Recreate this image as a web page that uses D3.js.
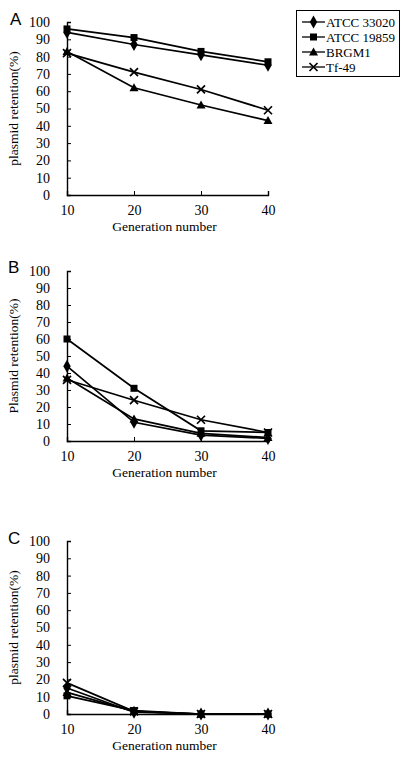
<!DOCTYPE html>
<html><head><meta charset="utf-8">
<script src="https://cdn.jsdelivr.net/npm/d3@7"></script>
<style>body{margin:0;background:#fff}svg{display:block}</style>
</head><body>
<svg id="c" width="412" height="758"></svg>
<script>
const generations = [10, 20, 30, 40];
const seriesNames = ["ATCC 33020", "ATCC 19859", "BRGM1", "Tf-49"];
const seriesSymbols = ["diamond", "square", "triangle", "cross"];
const yTicks = [0, 10, 20, 30, 40, 50, 60, 70, 80, 90, 100];
const xTicks = [10, 20, 30, 40];
const panelLetters = ["A", "B", "C"];
const yLabels = ["plasmid retention(%)", "Plasmid retention(%)", "plasmid retention(%)"];
const xLabel = "Generation number";

// Panel A values
const panelA_33020 = [94, 87, 81, 75];
const panelA_19859 = [96, 91, 83, 77];
const panelA_BRGM1 = [83, 62, 52, 43];
const panelA_Tf49  = [82, 71, 61, 49];
// Panel B values
const panelB_33020 = [44, 11, 3.5, 1.5];
const panelB_19859 = [60, 31, 6, 5];
const panelB_BRGM1 = [37, 13, 4.5, 2];
const panelB_Tf49  = [36, 24, 12.5, 5];
// Panel C values
const panelC_33020 = [15, 1, 0, 0];
const panelC_19859 = [10.5, 2, 0, 0];
const panelC_BRGM1 = [12.5, 1.5, 0, 0];
const panelC_Tf49  = [18, 1.5, 0, 0];

const panelData = [
  [panelA_33020, panelA_19859, panelA_BRGM1, panelA_Tf49],
  [panelB_33020, panelB_19859, panelB_BRGM1, panelB_Tf49],
  [panelC_33020, panelC_19859, panelC_BRGM1, panelC_Tf49]
];

const layout = [
  {top: 22, bottom: 195, letterY: 25},
  {top: 271, bottom: 441, letterY: 273},
  {top: 541, bottom: 714, letterY: 544}
];
const left = 67, right = 268;
const font = "'Liberation Serif', 'Times New Roman', serif";

const svg = d3.select("#c");

function drawSymbol(g, type, x, y) {
  if (type === "diamond") {
    g.append("path").attr("d", d3.symbol(d3.symbolDiamond, 48)()).attr("transform", `translate(${x},${y})`).attr("fill", "#000");
  } else if (type === "square") {
    g.append("rect").attr("x", x - 3.5).attr("y", y - 3.5).attr("width", 7).attr("height", 7).attr("fill", "#000");
  } else if (type === "triangle") {
    g.append("path").attr("d", `M${x},${y-4.5}L${x+4.5},${y+3.5}L${x-4.5},${y+3.5}Z`).attr("fill", "#000");
  } else {
    g.append("path").attr("d", `M${x-4},${y-4}L${x+4},${y+4}M${x-4},${y+4}L${x+4},${y-4}`).attr("stroke", "#000").attr("stroke-width", 1.7).attr("fill", "none");
  }
}

layout.forEach((L, pi) => {
  const g = svg.append("g");
  const x = d3.scaleLinear().domain([10, 40]).range([left, right]);
  const y = d3.scaleLinear().domain([0, 100]).range([L.bottom, L.top]);

  const yAxis = d3.axisLeft(y).tickValues(yTicks).tickSize(-4).tickPadding(17);
  const gy = g.append("g").attr("transform", `translate(${left},0)`).call(yAxis);
  const xAxis = d3.axisBottom(x).tickValues(xTicks).tickSize(-4).tickPadding(10);
  const gx = g.append("g").attr("transform", `translate(0,${L.bottom})`).call(xAxis);
  [gy, gx].forEach(a => {
    a.select(".domain").attr("stroke", "#000").attr("stroke-width", 1.4);
    a.selectAll(".tick line").attr("stroke", "#000").attr("stroke-width", 1);
    a.selectAll(".tick text").attr("font-family", font).attr("font-size", 14).attr("fill", "#000");
  });

  const line = d3.line().x((d, i) => x(generations[i])).y(d => y(d));
  panelData[pi].forEach(vals => {
    g.append("path").datum(vals).attr("d", line).attr("fill", "none").attr("stroke", "#000").attr("stroke-width", 1.7);
  });
  panelData[pi].forEach((vals, si) => {
    vals.forEach((v, i) => drawSymbol(g, seriesSymbols[si], x(generations[i]), y(v)));
  });

  g.append("text").attr("x", (left + right) / 2 - 3).attr("y", L.bottom + 36)
    .attr("text-anchor", "middle").attr("font-family", font).attr("font-size", 13.5).text(xLabel);
  g.append("text").attr("transform", `translate(13,${(L.top + L.bottom) / 2}) rotate(-90)`)
    .attr("text-anchor", "middle").attr("dominant-baseline", "central")
    .attr("font-family", font).attr("font-size", 13.5).text(yLabels[pi]);
  g.append("text").attr("x", pi === 0 ? 10 : 8).attr("y", L.letterY)
    .attr("font-family", "'Liberation Sans', Arial, sans-serif").attr("font-size", 17).text(panelLetters[pi]);
});

const lg = svg.append("g");
lg.append("rect").attr("x", 296.5).attr("y", 10.5).attr("width", 103).attr("height", 66)
  .attr("fill", "none").attr("stroke", "#000").attr("stroke-width", 1);
seriesNames.forEach((name, i) => {
  const yy = 22 + i * 15;
  lg.append("line").attr("x1", 302).attr("x2", 325).attr("y1", yy).attr("y2", yy).attr("stroke", "#000").attr("stroke-width", 1.3);
  drawSymbol(lg, seriesSymbols[i], 313.5, yy);
  lg.append("text").attr("x", 326).attr("y", yy + 5).attr("font-family", font).attr("font-size", 13).text(name);
});
</script>
</body></html>
